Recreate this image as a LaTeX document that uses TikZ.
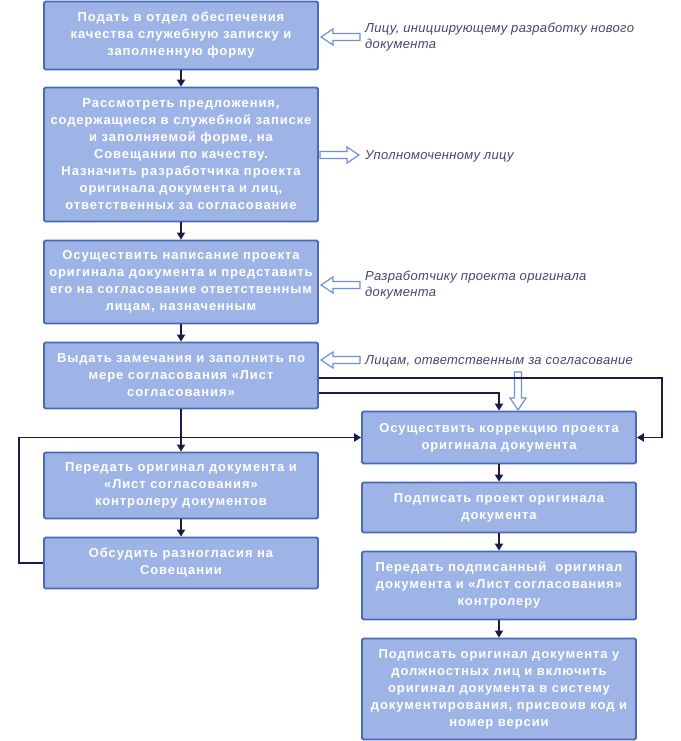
\documentclass[tikz,border=0pt]{standalone}
\usepackage{fontspec}
\setmainfont{Liberation Sans}
\newfontfamily\boxfont[LetterSpace=7]{Liberation Sans}
\newfontfamily\labfont[LetterSpace=2.5]{Liberation Sans}
\usetikzlibrary{arrows.meta}
\definecolor{boxfill}{HTML}{9EB4E6}
\definecolor{boxline}{HTML}{4A6AB5}
\definecolor{arrcol}{HTML}{1C1C48}
\definecolor{hcol}{HTML}{6E8FD9}
\definecolor{labcol}{HTML}{45466E}
\tikzset{
  stepbox/.style={draw=boxline, fill=boxfill, line width=1.8pt, rounded corners=1.5pt,
    minimum width=274pt, align=center, text=white,
    font=\fontsize{13}{17}\selectfont\boxfont\bfseries, inner sep=0pt},
  arr/.style={draw=arrcol, line width=1.8pt, -{Triangle[length=7pt,width=8pt]}},
  hollow/.style={draw=hcol, fill=white, line width=1.2pt, line join=miter},
  lab/.style={anchor=west, align=left, text=labcol, inner sep=0pt,
    font=\fontsize{13}{16}\selectfont\labfont\itshape},
  pics/harr/.style={code={\draw[hollow] (0,0) -- (12,8) -- (12,3.5) -- (#1,3.5) -- (#1,-3.5) -- (12,-3.5) -- (12,-8) -- cycle;}}
}
\begin{document}
\begin{tikzpicture}[x=1pt,y=1pt]
\useasboundingbox[fill=white] (0,0) rectangle (680,-741);
% left column
\node[stepbox, minimum height=68pt] (B1) at (181,-35.5) {Подать в отдел обеспечения\\качества служебную записку и\\заполненную форму};
\node[stepbox, minimum height=134pt] (B2) at (181,-154.5) {Рассмотреть предложения,\\содержащиеся в служебной записке\\и заполняемой форме, на\\Совещании по качеству.\\Назначить разработчика проекта\\оригинала документа и лиц,\\ответственных за согласование};
\node[stepbox, minimum height=83pt] (B3) at (181,-282) {Осуществить написание проекта\\оригинала документа и представить\\его на согласование ответственным\\лицам, назначенным};
\node[stepbox, minimum height=66pt] (B4) at (181,-375.5) {Выдать замечания и заполнить по\\мере согласования «Лист\\согласования»};
\node[stepbox, minimum height=66pt] (B5) at (181,-485.5) {Передать оригинал документа и\\«Лист согласования»\\контролеру документов};
\node[stepbox, minimum height=51pt] (B6) at (181,-563) {Обсудить разногласия на\\Совещании};
% right column
\node[stepbox, minimum height=52pt] (R1) at (499,-437.5) {Осуществить коррекцию проекта\\оригинала документа};
\node[stepbox, minimum height=50pt] (R2) at (499,-507.5) {Подписать проект оригинала\\документа};
\node[stepbox, minimum height=68pt] (R3) at (499,-585.5) {Передать подписанный\ \ оригинал\\документа и «Лист согласования»\\контролеру};
\node[stepbox, minimum height=101pt] (R4) at (499,-689) {Подписать оригинал документа у\\должностных лиц и включить\\оригинал документа в систему\\документирования, присвоив код и\\номер версии};
% labels
\node[lab] (L1) at (365,-37) {Лицу, инициирующему разработку нового\\документа};
\node[lab] (L2) at (365,-156) {Уполномоченному лицу};
\node[lab] (L3) at (365,-285.5) {Разработчику проекта оригинала\\документа};
\node[lab] (L4) at (365,-361) {Лицам, ответственным за согласование};
% hollow arrows
\pic at (321,-37) {harr=39};
\pic[rotate=180] at (359,-155) {harr=39};
\pic at (321,-285) {harr=39};
\pic at (321,-360) {harr=39};
\pic[rotate=90] at (518,-410) {harr=38};
% flow arrows
\draw[arr] (B1) -- (B2);
\draw[arr] (B2) -- (B3);
\draw[arr] (B3) -- (B4);
\draw[arr] (B4) -- (B5);
\draw[arr] (B5) -- (B6);
\draw[arr] (R1) -- (R2);
\draw[arr] (R2) -- (R3);
\draw[arr] (R3) -- (R4);
\draw[arr] ([yshift=-2.5pt]B4.east) -| ([xshift=25pt]R1.east) -- (R1.east);
\draw[arr] ([yshift=-17.5pt]B4.east) -| (R1.north);
\draw[arr] (B6.west) -- ++(-24,0) |- (R1.west);
\end{tikzpicture}
\end{document}
